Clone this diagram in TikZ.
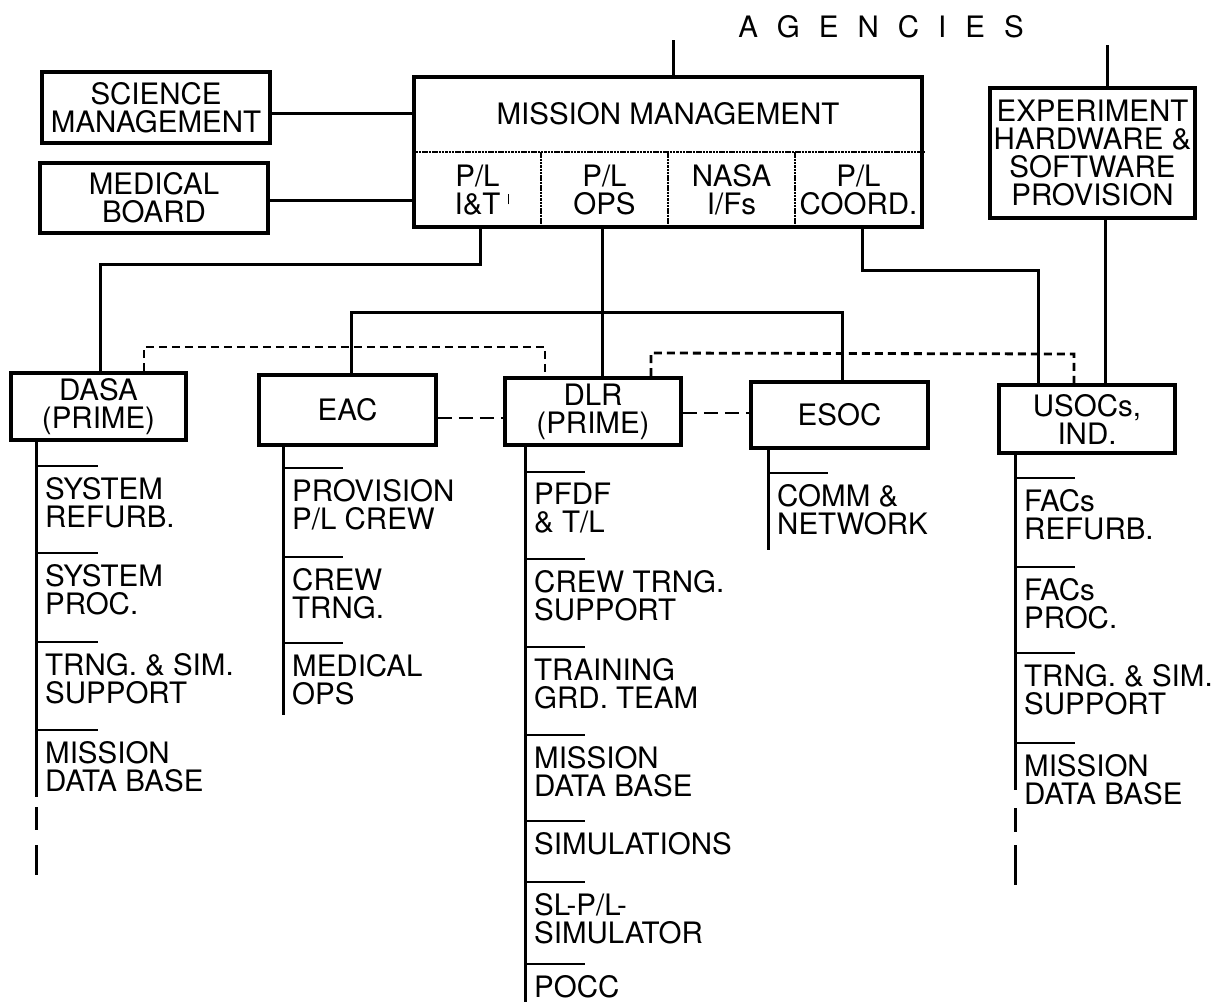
\documentclass[tikz,border=0pt]{standalone}
\usepackage{fontspec}
\setmainfont{TeX Gyre Heros}
\begin{document}
\begin{tikzpicture}[x=1pt,y=-1pt,
  txt/.style={inner sep=0pt, align=center, font=\fontsize{29.5}{28}\selectfont},
  box/.style={draw, line width=3.6pt, inner sep=0pt, align=center, font=\fontsize{29.5}{28}\selectfont},
  item/.style={anchor=north west, inner sep=0pt, align=left, font=\fontsize{29.5}{28}\selectfont},
  conn/.style={line width=3pt},
  tickl/.style={line width=2.8pt},
  thinl/.style={line width=1.5pt, dash pattern=on 2.5pt off 0.8pt},
  dots/.style={line width=2.8pt, dash pattern=on 8pt off 5pt},
  dsh/.style={line width=2.8pt, dash pattern=on 14pt off 7pt}]
\fill[white] (0,0) rectangle (1220,1002);
\useasboundingbox (0,0) rectangle (1220,1002);

% title
\node[txt, anchor=base] (agency) at (881,37) {\spaceskip=19pt A G E N C I E S};

% top boxes
\node[box, minimum width=228pt, minimum height=71pt] (sci) at (156,107.5) {SCIENCE\\MANAGEMENT};
\node[box, minimum width=228pt, minimum height=70pt] (med) at (154,198) {MEDICAL\\BOARD};
\node[box, minimum width=508pt, minimum height=150pt] (mm) at (668,152) {};
\node[box, minimum width=205pt, minimum height=130pt] (exp) at (1092.5,153) {EXPERIMENT\\HARDWARE \&\\SOFTWARE\\PROVISION};

% mission management internals
\node[txt] (mmt) at (668,114) {MISSION MANAGEMENT};
\draw[thinl] (mm.west |- 0,152) -- (mm.east |- 0,152);
\draw[thinl] (541,152) -- (mm.south -| 541,0);
\draw[thinl] (668,152) -- (mm.south -| 668,0);
\draw[thinl] (795,152) -- (mm.south -| 795,0);
\node[txt] (c1) at (477.5,190) {P/L\\I\&T};
\node[txt] (c2) at (604.5,190) {P/L\\OPS};
\node[txt] (c3) at (731.5,190) {NASA\\I/Fs};
\node[txt] (c4) at (858.5,190) {P/L\\COORD.};
\draw[line width=1.2pt] (c1.south east) ++(8,-11) -- ++(0,-10);

% second row boxes
\node[box, minimum width=175pt, minimum height=67pt] (dasa) at (98.5,406.5) {DASA\\(PRIME)};
\node[box, minimum width=177pt, minimum height=70pt] (eac) at (347.5,410) {EAC};
\node[box, minimum width=176pt, minimum height=67pt] (dlr) at (593,411.5) {DLR\\(PRIME)};
\node[box, minimum width=177pt, minimum height=66pt] (esoc) at (839.5,415) {ESOC};
\node[box, minimum width=176pt, minimum height=68pt] (usoc) at (1087,419) {USOCs,\\IND.};

% connectors top
\coordinate (ag1) at (673,40);
\coordinate (ag2) at (1107,45);
\draw[conn] (ag1) -- (ag1 |- mm.north);
\draw[conn] (ag2) -- (ag2 |- exp.north);
\draw[conn] (sci.east |- 0,113) -- (mm.west |- 0,113);
\draw[conn] (med.east |- 0,200) -- (mm.west |- 0,200);

\coordinate (j1) at (480,264);
\coordinate (j1b) at (100,264);
\draw[conn] (j1 |- mm.south) -- (j1) -- (j1b) -- (j1b |- dasa.north);

\coordinate (j2) at (602,312);
\draw[conn] (j2 |- mm.south) -- (j2 |- dlr.north);
\coordinate (hl) at (351,312);
\coordinate (hr) at (842,312);
\draw[conn] (hl |- eac.north) -- (hl) -- (hr) -- (hr |- esoc.north);

\coordinate (j3) at (862,270);
\coordinate (j4) at (1038,270);
\draw[conn] (j3 |- mm.south) -- (j3) -- (j4) -- (j4 |- usoc.north);
\coordinate (j5) at (1105,300);
\draw[conn] (j5 |- exp.south) -- (j5 |- usoc.north);

% dotted links
\coordinate (p1) at (144,347);
\coordinate (p2) at (545,347);
\draw[dots] (p1 |- dasa.north) -- (p1) -- (p2) -- (p2 |- dlr.north);
\coordinate (q1) at (651,353);
\coordinate (q2) at (1074,354);
\draw[dots] (q1 |- dlr.north) -- (q1) -- (q2) -- (q2 |- usoc.north);

% dashed links
\draw[dsh] (eac.east |- 0,418) -- (dlr.west |- 0,418);
\draw[dsh] (dlr.east |- 0,413) -- (esoc.west |- 0,413);

% DASA column
\coordinate (dae) at (36,797);
\draw[conn] (dae |- dasa.south) -- (dae);
\draw[conn] (36,807) -- (36,830);
\draw[conn] (36,845) -- (36,875);
\node[item] (da1) at (45,477) {SYSTEM\\REFURB.};
\node[item] (da2) at (45,564) {SYSTEM\\PROC.};
\node[item] (da3) at (45,653) {TRNG. \& SIM.\\SUPPORT};
\node[item] (da4) at (45,741) {MISSION\\DATA BASE};
\foreach \n in {da1,da2,da3,da4} \draw[tickl] (\n.north west) +(-9,-11) -- +(53,-11);

% EAC column
\coordinate (eae) at (283,715);
\draw[conn] (eae |- eac.south) -- (eae);
\node[item] (ea1) at (292,479) {PROVISION\\P/L CREW};
\node[item] (ea2) at (292,568) {CREW\\TRNG.};
\node[item] (ea3) at (292,654) {MEDICAL\\OPS};
\foreach \n in {ea1,ea2,ea3} \draw[tickl] (\n.north west) +(-9,-11) -- +(51,-11);

% DLR column
\coordinate (dle) at (525,1002);
\draw[conn] (dle |- dlr.south) -- (dle);
\node[item] (dl1) at (534,483) {PFDF\\\& T/L};
\node[item] (dl2) at (534,570) {CREW TRNG.\\SUPPORT};
\node[item] (dl3) at (534,658) {TRAINING\\GRD. TEAM};
\node[item] (dl4) at (534,746) {MISSION\\DATA BASE};
\node[item] (dl5) at (534,832) {SIMULATIONS};
\node[item] (dl6) at (534,893) {SL-P/L-\\SIMULATOR};
\node[item] (dl7) at (534,975) {POCC};
\foreach \n in {dl1,dl2,dl3,dl4,dl5,dl6,dl7} \draw[tickl] (\n.north west) +(-9,-11) -- +(51,-11);

% ESOC column
\coordinate (ese) at (768,550);
\draw[conn] (ese |- esoc.south) -- (ese);
\node[item] (es1) at (777,484) {COMM \&\\NETWORK};
\draw[tickl] (es1.north west) +(-9,-11) -- +(51,-11);

% USOC column
\coordinate (use) at (1015,790);
\draw[conn] (use |- usoc.south) -- (use);
\draw[conn] (1015,808) -- (1015,832);
\draw[conn] (1015,845) -- (1015,885);
\node[item] (us1) at (1024,489) {FACs\\REFURB.};
\node[item] (us2) at (1024,578) {FACs\\PROC.};
\node[item] (us3) at (1024,664) {TRNG. \& SIM.\\SUPPORT};
\node[item] (us4) at (1024,754) {MISSION\\DATA BASE};
\foreach \n in {us1,us2,us3,us4} \draw[tickl] (\n.north west) +(-9,-11) -- +(51,-11);
\end{tikzpicture}
\end{document}
